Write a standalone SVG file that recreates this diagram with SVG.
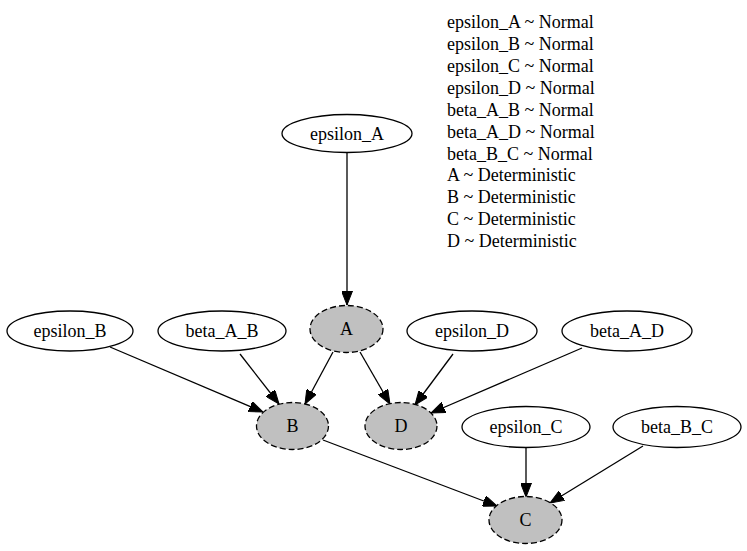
<svg xmlns="http://www.w3.org/2000/svg" width="747" height="551" viewBox="0 0 747 551">
<style>
text{font-family:"Liberation Serif","Times New Roman",serif;font-size:18px;fill:#000}
.n{text-anchor:middle}
.plain{fill:#fff;stroke:#000;stroke-width:1.3}
.det{fill:#c0c0c0;stroke:#000;stroke-width:1.3;stroke-dasharray:6,3}
.e{stroke:#000;stroke-width:1.3;fill:none;marker-end:url(#ah)}
</style>
<defs>
<marker id="ah" viewBox="0 0 14 11" refX="14" refY="5.5" markerWidth="14" markerHeight="11" markerUnits="userSpaceOnUse" orient="auto">
<path d="M0,0 L14,5.5 L0,11 z" fill="#000" stroke="#000" stroke-width="1"/>
</marker>
</defs>
<rect width="747" height="551" fill="#fff"/>
<g id="legend">
<text x="447" y="28">epsilon_A ~ Normal</text>
<text x="447" y="50">epsilon_B ~ Normal</text>
<text x="447" y="72">epsilon_C ~ Normal</text>
<text x="447" y="94">epsilon_D ~ Normal</text>
<text x="447" y="116">beta_A_B ~ Normal</text>
<text x="447" y="138">beta_A_D ~ Normal</text>
<text x="447" y="160">beta_B_C ~ Normal</text>
<text x="447" y="181">A ~ Deterministic</text>
<text x="447" y="203">B ~ Deterministic</text>
<text x="447" y="225">C ~ Deterministic</text>
<text x="447" y="247">D ~ Deterministic</text>
</g>
<g id="connectors">
<line class="e" x1="347" y1="153" x2="347" y2="305"/>
<line class="e" x1="110" y1="347" x2="263" y2="412"/>
<line class="e" x1="240" y1="354" x2="279" y2="404"/>
<line class="e" x1="333" y1="352" x2="305" y2="404"/>
<line class="e" x1="360" y1="352" x2="390" y2="404"/>
<line class="e" x1="453" y1="354" x2="415" y2="405"/>
<line class="e" x1="582" y1="348" x2="431" y2="413"/>
<line class="e" x1="323" y1="440" x2="497" y2="506"/>
<line class="e" x1="526" y1="448" x2="526" y2="497"/>
<line class="e" x1="643" y1="446" x2="550" y2="503"/>
</g>
<g id="epsilon_A"><ellipse class="plain" cx="347" cy="133.5" rx="65" ry="19"/><text class="n" x="347" y="139.5">epsilon_A</text></g>
<g id="A"><ellipse class="det" cx="346.5" cy="329" rx="36.5" ry="23.5"/><text class="n" x="346.5" y="335">A</text></g>
<g id="epsilon_B"><ellipse class="plain" cx="70" cy="331" rx="63" ry="20"/><text class="n" x="70" y="337">epsilon_B</text></g>
<g id="beta_A_B"><ellipse class="plain" cx="222" cy="331" rx="64" ry="20"/><text class="n" x="222" y="337">beta_A_B</text></g>
<g id="epsilon_D"><ellipse class="plain" cx="472" cy="331" rx="65" ry="20"/><text class="n" x="472" y="337">epsilon_D</text></g>
<g id="beta_A_D"><ellipse class="plain" cx="627" cy="331" rx="65" ry="20"/><text class="n" x="627" y="337">beta_A_D</text></g>
<g id="B"><ellipse class="det" cx="292.5" cy="426" rx="36" ry="23.5"/><text class="n" x="292.5" y="432">B</text></g>
<g id="D"><ellipse class="det" cx="401" cy="426" rx="36" ry="23.5"/><text class="n" x="401" y="432">D</text></g>
<g id="epsilon_C"><ellipse class="plain" cx="526" cy="427" rx="64" ry="20.5"/><text class="n" x="526" y="433">epsilon_C</text></g>
<g id="beta_B_C"><ellipse class="plain" cx="677" cy="427" rx="64" ry="20.5"/><text class="n" x="677" y="433">beta_B_C</text></g>
<g id="C"><ellipse class="det" cx="525.5" cy="520" rx="36.5" ry="23.5"/><text class="n" x="525.5" y="526">C</text></g>
</svg>
